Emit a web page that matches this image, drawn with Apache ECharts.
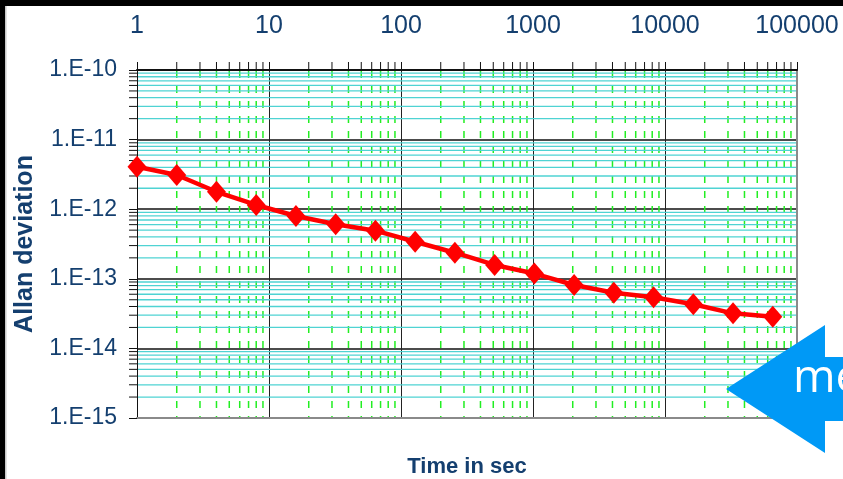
<!DOCTYPE html>
<html>
<head>
<meta charset="utf-8">
<script src="https://cdn.jsdelivr.net/npm/echarts@6/dist/echarts.min.js"></script>
<style>
html,body{margin:0;padding:0;background:#fff;}
#chart{width:843px;height:479px;}
</style>
</head>
<body>
<div id="chart"></div>
<script>
// ---- data ----
const tau = [1, 2, 4, 8, 16, 32, 64, 128, 256, 512, 1024, 2048, 4096, 8192, 16384, 32768, 65536];
const adev = [4.08e-12, 3.10e-12, 1.78e-12, 1.15e-12, 7.98e-13, 6.07e-13, 4.91e-13, 3.41e-13, 2.37e-13,
              1.58e-13, 1.19e-13, 8.15e-14, 6.31e-14, 5.42e-14, 4.30e-14, 3.19e-14, 2.85e-14];
const xTickLabels = ['1', '10', '100', '1000', '10000', '100000'];
const yTickLabels = ['1.E-15', '1.E-14', '1.E-13', '1.E-12', '1.E-11', '1.E-10'];
const xMin = 1, xMax = 100000, yMin = 1e-15, yMax = 1e-10;

// minor grid positions (2..9 within each decade)
const xMinor = [];
for (let d = 0; d < 5; d++) for (let m = 2; m <= 9; m++) xMinor.push(m * Math.pow(10, d));
const yMinor = [];
for (let d = -15; d < -10; d++) for (let m = 2; m <= 9; m++) yMinor.push(m * Math.pow(10, d));

const navy = '#143f6f';
const FONT = 'Liberation Sans, Arial, sans-serif';

const chart = echarts.init(document.getElementById('chart'), null, {renderer: 'canvas'});

const option = {
  backgroundColor: '#ffffff',
  animation: false,
  grid: {left: 137, top: 70, width: 660, height: 348, containLabel: false, outerBoundsMode: 'none'},
  xAxis: [
    {
      type: 'log', logBase: 10, min: xMin, max: xMax, position: 'top',
      axisLine: {show: true, onZero: false, lineStyle: {color: '#111', width: 2}},
      axisTick: {show: true, length: 8, lineStyle: {color: '#111', width: 1}},
      axisLabel: {
        show: true, margin: 31, color: navy, fontSize: 25, fontFamily: FONT,
        formatter: v => xTickLabels[Math.round(Math.log10(v))]
      },
      splitLine: {show: true, lineStyle: {color: '#222', width: 1}},
      minorTick: {show: false}, minorSplitLine: {show: false}
    },
    {
      type: 'log', logBase: 10, min: xMin, max: xMax, position: 'bottom',
      axisLine: {show: true, onZero: false, lineStyle: {color: '#8a8a8a', width: 2}},
      axisTick: {show: false}, axisLabel: {show: false}, splitLine: {show: false},
      name: 'Time in sec', nameLocation: 'middle', nameGap: 38,
      nameTextStyle: {color: navy, fontSize: 22, fontWeight: 'bold', fontFamily: FONT}
    }
  ],
  yAxis: [
    {
      type: 'log', logBase: 10, min: yMin, max: yMax, position: 'left',
      axisLine: {show: true, onZero: false, lineStyle: {color: '#111', width: 1}},
      axisTick: {show: true, length: 8, lineStyle: {color: '#111', width: 1}},
      axisLabel: {
        show: true, margin: 20, color: navy, fontSize: 23, fontFamily: FONT,
        formatter: v => yTickLabels[Math.round(Math.log10(v)) + 15]
      },
      splitLine: {show: true, lineStyle: {color: '#111', width: 1.5}},
      name: 'Allan deviation', nameLocation: 'middle', nameRotate: 90, nameGap: 99,
      nameTextStyle: {color: navy, fontSize: 25, fontWeight: 'bold', fontFamily: FONT}
    },
    {
      type: 'log', logBase: 10, min: yMin, max: yMax, position: 'right',
      axisLine: {show: true, onZero: false, lineStyle: {color: '#8a8a8a', width: 2}},
      axisTick: {show: false}, axisLabel: {show: false}, splitLine: {show: false}
    }
  ],
  series: [
    {
      // minor vertical grid (green dashed) + top minor ticks
      type: 'custom', xAxisIndex: 0, yAxisIndex: 0, z: 1, clip: false, silent: true,
      data: xMinor.map(v => [v, yMin]),
      renderItem: function (params, api) {
        const v = api.value(0);
        const pTop = api.coord([v, yMax]);
        const pBot = api.coord([v, yMin]);
        return {
          type: 'group',
          children: [
            {type: 'line', shape: {x1: pTop[0], y1: pTop[1] + 1, x2: pBot[0], y2: pBot[1] - 1},
             style: {stroke: '#22ee22', lineWidth: 1.5, lineDash: [7, 8]}},
            {type: 'line', shape: {x1: pTop[0], y1: pTop[1] - 8, x2: pTop[0], y2: pTop[1]},
             style: {stroke: '#111', lineWidth: 1}}
          ]
        };
      }
    },
    {
      // minor horizontal grid (cyan) + left minor ticks
      type: 'custom', xAxisIndex: 0, yAxisIndex: 0, z: 2, clip: false, silent: true,
      data: yMinor.map(v => [xMin, v]),
      renderItem: function (params, api) {
        const v = api.value(1);
        const pL = api.coord([xMin, v]);
        const pR = api.coord([xMax, v]);
        return {
          type: 'group',
          children: [
            {type: 'line', shape: {x1: pL[0] + 1, y1: pL[1], x2: pR[0] - 1, y2: pR[1]},
             style: {stroke: '#4fd3d3', lineWidth: 1.3}},
            {type: 'line', shape: {x1: pL[0] - 8, y1: pL[1], x2: pL[0], y2: pL[1]},
             style: {stroke: '#111', lineWidth: 1}}
          ]
        };
      }
    },
    {
      type: 'line', xAxisIndex: 0, yAxisIndex: 0, z: 5,
      data: tau.map((t, i) => [t, adev[i]]),
      symbol: 'diamond', symbolSize: [19, 22],
      lineStyle: {color: '#ff0000', width: 4.5},
      itemStyle: {color: '#ff0000'}
    }
  ],
  graphic: [
    {type: 'rect', left: 0, top: 0, shape: {width: 843, height: 6}, style: {fill: '#000'}, z: 100},
    {type: 'rect', left: 0, top: 0, shape: {width: 5, height: 479}, style: {fill: '#000'}, z: 100},
    {type: 'rect', left: 5, top: 6, shape: {width: 1.5, height: 473}, style: {fill: '#c8c8c8'}, z: 100},
    {
      type: 'polygon', z: 100,
      shape: {points: [[726, 389], [825, 325], [825, 357], [843, 357], [843, 421], [825, 421], [825, 453]]},
      style: {fill: '#0099f6'}
    },
    {
      type: 'text', z: 101, left: 793, top: 356,
      style: {text: 'me', fill: '#ffffff', fontSize: 46, fontFamily: 'Open Sans, sans-serif'}
    }
  ]
};
chart.setOption(option);
</script>
</body>
</html>
